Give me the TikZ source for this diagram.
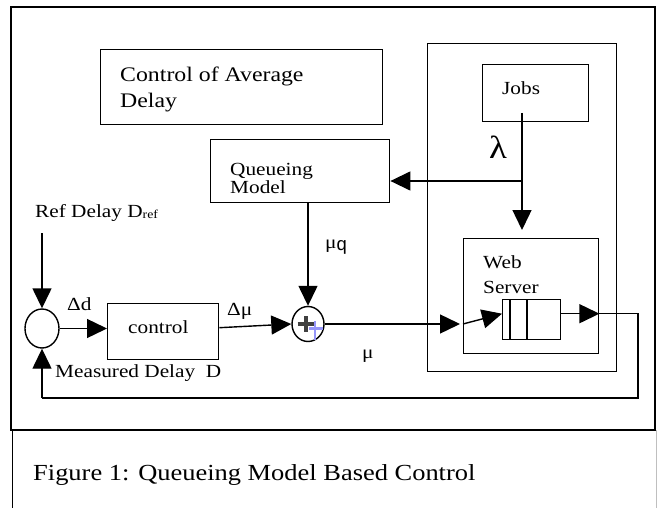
\documentclass[tikz,border=0pt]{standalone}
\usepackage{fontspec}
\setmainfont[FakeStretch=1.15]{Liberation Serif}
\setsansfont{Liberation Sans}
\usetikzlibrary{positioning, calc, shapes.geometric, arrows.meta}

\definecolor{plusblue}{RGB}{150,150,250}

\tikzset{
  box/.style={draw, line width=1.4pt, inner sep=0pt, anchor=north west},
  sumnode/.style={draw, ellipse, line width=1.4pt, inner sep=0pt},
  txt/.style={inner sep=0pt, anchor=base west, font=\fontsize{18.5}{25}\selectfont, align=left},
  arr/.style={line width=1.4pt, -{Triangle[length=20pt, width=19pt]}},
  wire/.style={line width=1.4pt},
}

\begin{document}
\begin{tikzpicture}[x=1pt, y=-1pt]
    \useasboundingbox (0,0) rectangle (658,508);

    % frame and caption
    \draw[line width=2pt] (11,7) rectangle (655,430);
    \draw[line width=1.4pt] (12.7,430) -- (12.7,508);
    \draw[line width=1pt, black!25] (656,430) -- (656,508);
    \node[txt, font=\fontsize{23}{28}\selectfont] (caption) at (33,480) {Figure 1: Queueing Model Based Control};

    % title (multi-line text sits on its last baseline)
    \node[box, minimum width=282pt, minimum height=75pt] (titlebox) at (100,49) {};
    \node[txt, font=\fontsize{20.7}{26}\selectfont] (title) at (120,108) {Control of Average\\Delay};

    % server side
    \node[box, minimum width=189pt, minimum height=328pt] (host) at (427,43) {};
    \node[box, minimum width=106pt, minimum height=57pt] (jobs) at (482,64) {};
    \node[txt] (jobstxt) at (502,95) {Jobs};
    \node[box, minimum width=135pt, minimum height=115pt] (web) at (463,238) {};
    \node[txt] (webtxt) at (483,293) {Web\\Server};
    \node[box, minimum width=58pt, minimum height=40pt] (queue) at (502,299) {};
    \draw[wire] ([xshift=8pt]queue.north west) -- ([xshift=8pt]queue.south west)
                ([xshift=25pt]queue.north west) -- ([xshift=25pt]queue.south west);

    % queueing model
    \node[box, minimum width=179pt, minimum height=63pt] (qm) at (210,139) {};
    \node[txt, font=\fontsize{18.5}{15}\selectfont] (qmtxt) at (230,193) {Queueing\\Model};

    % control loop
    \node[sumnode, minimum width=34pt, minimum height=39pt] (sum1) at (42,328.5) {};
    \node[box, minimum width=111pt, minimum height=56pt] (ctrl) at (107,303) {};
    \node[txt] (ctrltxt) at (128,333) {control};
    \node[sumnode, minimum width=32pt, minimum height=35pt] (sum2) at (308,324) {};
    \draw[line width=4pt, black!75] (297.5,324) -- (313.5,324) (305.5,316) -- (305.5,332);
    \draw[line width=2.5pt, plusblue] (309,328.5) -- (323,328.5) (315,321) -- (315,340);

    % labels
    \node[txt] (reftxt) at (35,217) {Ref Delay D\raisebox{-1pt}{\fontsize{12}{12}\selectfont ref}};
    \node[txt] (dd) at (67,310) {Δd};
    \node[txt] (dmu) at (227,315) {Δμ};
    \node[txt] (muq) at (325,248) {μ\raisebox{-2pt}{\sffamily q}};
    \node[txt] (mu) at (362,358) {μ};
    \node[txt, font=\fontsize{32}{32}\selectfont] (lam) at (489,158) {λ};
    \node[txt] (meas) at (55,377) {Measured Delay\ \ D};

    % jobs into server and model
    \coordinate (jobsout) at (522,113);
    \coordinate (split) at (522,181);
    \draw[wire] (jobsout) -- (split);
    \draw[arr, shorten >=8pt] (split) -- (split |- web.north);
    \draw[arr] (split) -- (split -| qm.east);

    % forward path
    \coordinate (refin) at (42,233);
    \draw[arr] (refin) -- (sum1.north);
    \draw[arr] (sum1.east) -- (sum1.east -| ctrl.west);
    \draw[arr] ([yshift=4pt]ctrl.east) -- (sum2.west);
    \draw[arr] (qm.south -| sum2.north) -- (sum2.north);
    \coordinate (webin) at (sum2.east -| web.west);
    \draw[arr, shorten >=3pt] (sum2.east) -- (webin);
    \draw[arr] (webin) -- ([yshift=6pt]queue.west);

    % feedback
    \coordinate (qout) at ([yshift=6pt]queue.east);
    \coordinate (fbturn) at (638,398);
    \draw[arr] (qout) -- (qout -| web.east);
    \draw[wire] (qout -| web.east) -- (qout -| fbturn) -- (fbturn) -- (fbturn -| sum1.south);
    \draw[arr] (fbturn -| sum1.south) -- (sum1.south);
\end{tikzpicture}
\end{document}
